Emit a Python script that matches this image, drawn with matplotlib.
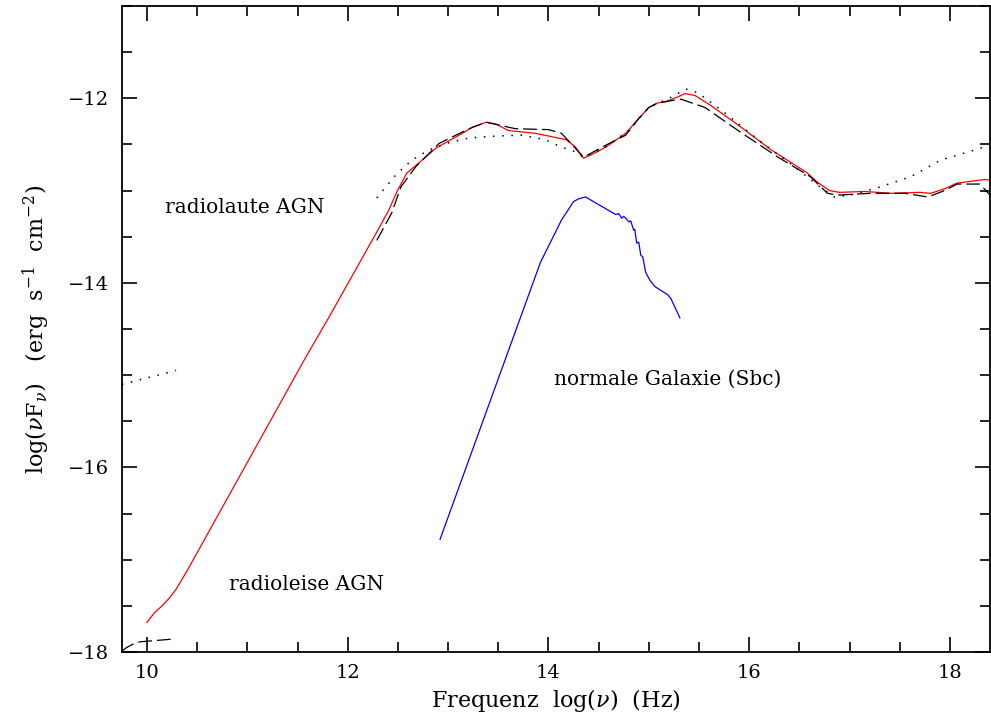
import matplotlib
matplotlib.use('Agg')
import matplotlib.pyplot as plt
from matplotlib.ticker import MultipleLocator

plt.rcParams['font.family'] = ['DejaVu Serif']
plt.rcParams['mathtext.fontset'] = 'dejavuserif'

# red solid curve
red_x = [10.0, 10.07, 10.15, 10.22, 10.29, 10.40, 11.57, 11.82, 12.30, 12.41, 12.50, 12.59,
         12.71, 12.88, 13.11, 13.25, 13.38, 13.48, 13.60, 13.87, 14.18, 14.27, 14.35, 14.45,
         14.57, 14.77, 14.90, 15.0, 15.09, 15.16, 15.28, 15.36, 15.46, 15.62, 15.89, 16.22,
         16.58, 16.68, 16.80, 16.90, 17.15, 17.41, 17.70, 17.81, 17.95, 18.07, 18.35, 18.40]
red_y = [-17.68, -17.58, -17.50, -17.42, -17.32, -17.12, -14.83, -14.36, -13.43, -13.21, -12.99, -12.81,
         -12.70, -12.54, -12.40, -12.31, -12.26, -12.28, -12.35, -12.38, -12.45, -12.53, -12.65, -12.60,
         -12.53, -12.38, -12.22, -12.10, -12.05, -12.04, -11.99, -11.95, -11.97, -12.08, -12.29, -12.56,
         -12.81, -12.91, -13.00, -13.02, -13.01, -13.03, -13.02, -13.03, -12.98, -12.92, -12.88, -12.89]

# black dashed curve
dash_x = [12.29, 12.44, 12.53, 12.68, 12.91, 13.21, 13.38, 13.67, 14.0, 14.13, 14.25, 14.35,
          14.45, 14.57, 14.77, 14.90, 15.0, 15.09, 15.32, 15.56, 15.89, 16.29, 16.61, 16.78, 16.88,
          17.21, 17.55, 17.78, 17.95, 18.07, 18.30, 18.40]
dash_y = [-13.54, -13.24, -12.96, -12.74, -12.49, -12.33, -12.26, -12.33, -12.34, -12.38, -12.52, -12.64,
          -12.58, -12.51, -12.40, -12.22, -12.10, -12.05, -12.01, -12.10, -12.35, -12.64, -12.85, -13.03, -13.05,
          -13.03, -13.03, -13.07, -13.00, -12.93, -12.93, -13.05]
dash2_x = [9.75, 9.80, 9.87, 9.93, 10.26]
dash2_y = [-17.99, -17.95, -17.91, -17.89, -17.86]

# black dotted curve
dot_x = [12.29, 12.48, 12.64, 12.81, 12.98, 13.21, 13.48, 13.73, 13.97, 14.13, 14.27, 14.35,
         14.57, 14.80, 15.0, 15.22, 15.37, 15.49, 15.76, 16.09, 16.45, 16.68, 16.85, 17.01,
         17.28, 17.61, 17.91, 18.34, 18.40]
dot_y = [-13.08, -12.83, -12.67, -12.56, -12.49, -12.43, -12.41, -12.40, -12.45, -12.53, -12.58, -12.64,
         -12.53, -12.35, -12.10, -11.99, -11.90, -11.94, -12.16, -12.45, -12.74, -12.94, -13.07, -13.05,
         -12.97, -12.85, -12.67, -12.53, -12.51]
dot2_x = [9.75, 10.29]
dot2_y = [-15.10, -14.95]

# blue curve (normale Galaxie Sbc)
blue_x = [12.92, 13.57, 13.92, 14.13, 14.25, 14.30, 14.37, 14.67, 14.70, 14.73, 14.75, 14.78,
          14.80, 14.82, 14.85, 14.86, 14.88, 14.90, 14.92, 14.94, 14.97, 15.01, 15.06, 15.16,
          15.19, 15.22, 15.31]
blue_y = [-16.78, -14.83, -13.78, -13.32, -13.12, -13.09, -13.07, -13.26, -13.25, -13.30, -13.28, -13.31,
          -13.34, -13.33, -13.43, -13.42, -13.57, -13.56, -13.70, -13.72, -13.89, -13.97, -14.04, -14.11,
          -14.13, -14.17, -14.38]

fig = plt.figure(figsize=(9.91, 7.17), dpi=100)
ax = fig.add_axes([0.123, 0.0907, 0.876, 0.901])

ax.plot(red_x, red_y, color='red', lw=0.9)
ax.plot(dash_x, dash_y, color='black', lw=0.9, linestyle=(0, (11, 4)))
ax.plot(dash2_x, dash2_y, color='black', lw=0.9, linestyle=(0, (11, 4)))
ax.plot(dot_x, dot_y, color='black', lw=1.1, linestyle=(0, (1, 5)))
ax.plot(dot2_x, dot2_y, color='black', lw=1.1, linestyle=(0, (1, 5)))
ax.plot(blue_x, blue_y, color='blue', lw=0.9)

ax.text(10.18, -13.18, 'radiolaute AGN', fontsize=14.5, va='center', ha='left')
ax.text(10.82, -17.27, 'radioleise AGN', fontsize=14.5, va='center', ha='left')
ax.text(14.06, -15.04, 'normale Galaxie (Sbc)', fontsize=14.5, va='center', ha='left')

ax.set_xlim(9.75, 18.4)
ax.set_ylim(-18, -11)
ax.xaxis.set_major_locator(MultipleLocator(2))
ax.xaxis.set_minor_locator(MultipleLocator(0.5))
ax.yaxis.set_major_locator(MultipleLocator(2))
ax.yaxis.set_minor_locator(MultipleLocator(0.5))
ax.tick_params(which='both', direction='in', top=True, right=True, width=1.2, labelsize=14)
ax.tick_params(which='major', length=11, pad=9)
ax.tick_params(which='minor', length=7)
for s in ax.spines.values():
    s.set_linewidth(1.3)

ax.set_xlabel(r'Frequenz  log($\nu$)  (Hz)', fontsize=16, labelpad=3)
ax.set_ylabel(r'log($\nu$F$_\nu$)   (erg  s$^{-1}$  cm$^{-2}$)', fontsize=16, labelpad=12)

fig.savefig('out.png', dpi=100)
